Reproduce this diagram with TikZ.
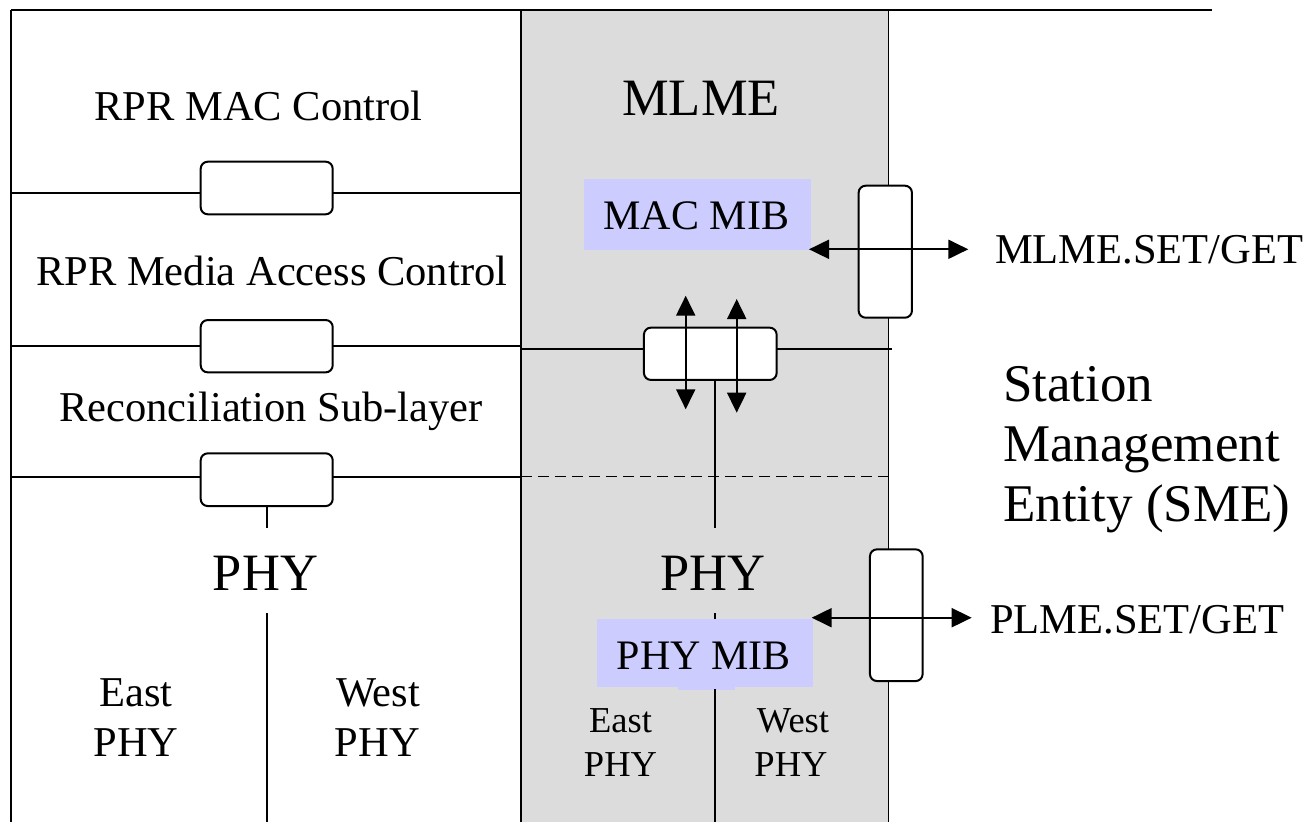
\documentclass[tikz,border=0pt]{standalone}
\usepackage{fontspec}
\setmainfont{Liberation Serif}
\usetikzlibrary{arrows.meta}
\definecolor{smegray}{RGB}{220,220,220}
\definecolor{mibblue}{RGB}{204,204,255}
\begin{document}
\begin{tikzpicture}[x=1pt,y=-1pt,
  rule/.style={line width=2pt},
  edge/.style={line width=1.5pt},
  dashrule/.style={line width=1.5pt, dash pattern=on 11pt off 6pt},
  sap/.style={draw, line width=2pt, fill=white, rounded corners=7pt, inner sep=0pt},
  mib/.style={fill=mibblue, draw=none, inner sep=0pt},
  dbl/.style={line width=2pt, {Triangle[length=20pt,width=19pt]}-{Triangle[length=20pt,width=19pt]}},
  txt/.style={inner sep=0pt, anchor=base, font=\fontsize{42.5}{50}\selectfont},
  big/.style={inner sep=0pt, anchor=base, font=\fontsize{52.5}{60}\selectfont},
  small/.style={inner sep=0pt, anchor=base, font=\fontsize{36.5}{44}\selectfont},
]
\useasboundingbox (0,0) rectangle (1310,822);

% station management column
\node[fill=smegray, draw=none, inner sep=0pt, minimum width=367.5pt, minimum height=812pt] (sme) at (704.75,416) {};
\draw[edge] (sme.north west) -- (sme.south west);
\draw[edge] (sme.north east) -- (sme.south east);

% frame
\coordinate (topl) at (11,10);
\coordinate (topr) at (1212,10);
\coordinate (botl) at (11,822);
\draw[rule] (topl) -- (topr);
\draw[rule] (topl) -- (botl);

% layer boundaries
\coordinate (h1l) at (11,193.3);  \coordinate (h1r) at (521,193.3);
\coordinate (h2l) at (11,346);    \coordinate (h2r) at (521,346);
\coordinate (h3l) at (11,476.7);  \coordinate (h3r) at (521,476.7);
\coordinate (m2l) at (521,349);   \coordinate (m2r) at (891.7,349);
\coordinate (m3l) at (521,476.7); \coordinate (m3r) at (888.5,476.7);
\draw[rule] (h1l) -- (h1r);
\draw[rule] (h2l) -- (h2r);
\draw[rule] (h3l) -- (h3r);
\draw[rule] (m2l) -- (m2r);
\draw[dashrule] (m3l) -- (m3r);

% management information bases
\node[mib, minimum width=227pt, minimum height=71pt] (macmib) at (697.5,214.5) {};
\node[mib, minimum width=215.7pt, minimum height=67.4pt] (phymib) at (704.85,653) {};
\fill[mibblue] (678,686) rectangle (735,689.5);

% service access points
\node[sap, minimum width=132pt, minimum height=52.6pt] (s1) at (266.7,188) {};
\node[sap, minimum width=132pt, minimum height=52.3pt] (s2) at (266.7,346.2) {};
\node[sap, minimum width=132pt, minimum height=52.7pt] (s3) at (266.7,479.7) {};
\node[sap, minimum width=132.7pt, minimum height=52.3pt] (smid) at (710.3,353.8) {};
\node[sap, minimum width=53.3pt, minimum height=132pt] (smlme) at (885.3,251.7) {};
\node[sap, minimum width=52.7pt, minimum height=131.7pt] (splme) at (896.3,615.2) {};

% PHY splits
\coordinate (lstub) at (266.7,528.3);
\coordinate (lsplit) at (266.7,613.3);
\coordinate (lsplitb) at (266.7,822);
\draw[rule] (s3.south) -- (lstub);
\draw[rule] (lsplit) -- (lsplitb);
\coordinate (mstub) at (715,528.3);
\coordinate (msplit) at (715,613.3);
\coordinate (msplitm) at (715,689);
\coordinate (msplitb) at (715,822);
\draw[rule] (smid.south -| mstub) -- (mstub);
\draw[rule] (msplit) -- (msplit |- phymib.north);
\draw[rule] (msplitm) -- (msplitb);

% primitives
\coordinate (va1t) at (685.7,295.7); \coordinate (va1b) at (685.7,409.3);
\coordinate (va2t) at (736.7,299);   \coordinate (va2b) at (736.7,412.7);
\draw[dbl] (va1t) -- (va1b);
\draw[dbl] (va2t) -- (va2b);
\coordinate (mlmein) at (809,249.3);   \coordinate (mlmeout) at (968.3,249.3);
\coordinate (plmein) at (811.7,617.7); \coordinate (plmeout) at (971.7,617.7);
\draw[dbl] (mlmein) -- (mlmeout);
\draw[dbl] (plmein) -- (plmeout);

% labels
\node[txt] (rprctl) at (258.5,120) {RPR MAC Control};
\node[big] (mlme) at (701,115) {MLME};
\node[txt, font=\fontsize{42}{50}\selectfont] (macmibt) at (696.3,229.3) {MAC MIB};
\node[txt] (rprmac) at (271.7,285) {RPR Media Access Control};
\node[txt, anchor=base west] (mlmesap) at (995,263.3) {MLME.SET/GET};
\node[txt] (rs) at (271,421.7) {Reconciliation Sub-layer};
\node[big, font=\fontsize{53}{60}\selectfont, anchor=base west] (sme1) at (1003,401) {Station};
\node[big, font=\fontsize{53}{60}\selectfont, anchor=base west] (sme2) at (1003,461) {Management};
\node[big, font=\fontsize{53}{60}\selectfont, anchor=base west] (sme3) at (1003,521) {Entity (SME)};
\node[big] (phyl) at (265.5,590) {PHY};
\node[big] (phyr) at (713,590) {PHY};
\node[txt, anchor=base west] (plmesap) at (990,633) {PLME.SET/GET};
\node[txt, font=\fontsize{42}{50}\selectfont] (phymibt) at (703.7,669.3) {PHY MIB};
\node[txt] (eastl1) at (136,706.7) {East};
\node[txt] (eastl2) at (136,756.7) {PHY};
\node[txt] (westl1) at (378,706.7) {West};
\node[txt] (westl2) at (377.5,756.7) {PHY};
\node[small] (eastr1) at (620.5,732.7) {East};
\node[small] (eastr2) at (620.5,776.7) {PHY};
\node[small] (westr1) at (793,732.7) {West};
\node[small] (westr2) at (791,776.7) {PHY};
\end{tikzpicture}
\end{document}
